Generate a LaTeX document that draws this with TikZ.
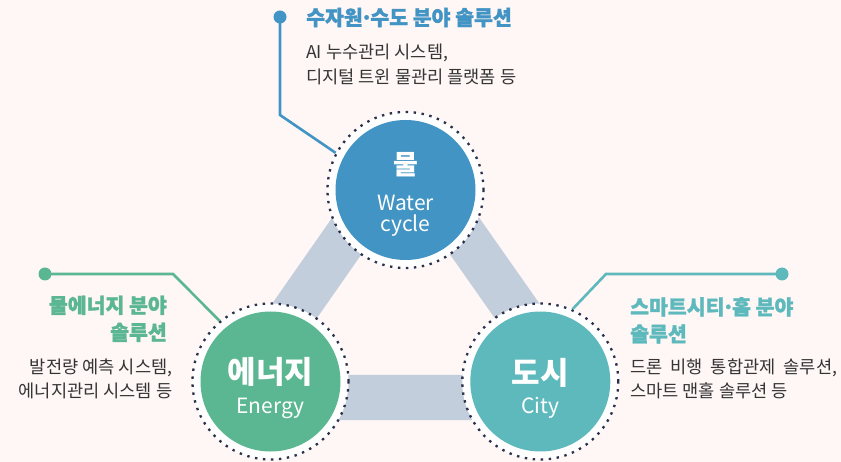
\documentclass[tikz,border=0pt]{standalone}
\usepackage{fontspec}
\setmainfont{Noto Sans CJK KR}
\newfontfamily\krheavy{Noto Sans CJK KR}[BoldFeatures={FakeBold=1.4}]
\definecolor{bg}{HTML}{FFF6F6}
\definecolor{wblue}{HTML}{4194C3}
\definecolor{egreen}{HTML}{5BB692}
\definecolor{cteal}{HTML}{5EB9BD}
\definecolor{barc}{HTML}{C3CEDC}
\definecolor{dotc}{HTML}{2A2F4A}
\definecolor{txt}{HTML}{353535}
\newcommand{\mdot}{\kern-0.12em·\kern-0.12em}
\begin{document}
\begin{tikzpicture}[x=1pt,y=-1pt,
  ring/.style={circle, fill=white, draw=dotc, line width=2.3pt, dash pattern=on 2.4pt off 5.6pt, minimum size=156, inner sep=0},
  core/.style={circle, fill=#1, minimum size=140, inner sep=0},
  bar/.style={draw=barc, line width=45pt, line join=round},
  callout/.style={draw=#1, line width=2.6pt},
  enddot/.style={circle, fill=#1, minimum size=13, inner sep=0},
  bigkr/.style={text=white, font=\fontsize{31}{31}\selectfont\bfseries, inner sep=0},
  latin/.style={text=white, font=\fontsize{21}{22}\selectfont, inner sep=0},
  title/.style={text=#1, font=\fontsize{20.5}{27}\selectfont\krheavy\bfseries, inner sep=0},
  body/.style={text=txt, font=\fontsize{17.6}{24.5}\selectfont, inner sep=0}
]
\fill[bg] (0,0) rectangle (841,462);
\useasboundingbox (0,0) rectangle (841,462);

% bars
\coordinate (b1) at (405.5,152);
\coordinate (b2) at (234,397.5);
\coordinate (b3) at (578,397.5);
\draw[bar] (b1) -- (b2) -- (b3) -- cycle;

% circles
\node[ring] (wout) at (405.5,190) {};
\node[ring] (eout) at (270.5,381.5) {};
\node[ring] (cout) at (540.3,381.5) {};
\node[core=wblue] (w) at (wout.center) {};
\node[core=egreen] (e) at (eout.center) {};
\node[core=cteal] (c) at (cout.center) {};

% circle texts
\node[text=white, font=\fontsize{27}{27}\selectfont\bfseries, inner sep=0] (wk) at (405.5,165) {물};
\node[latin, anchor=base] (wl1) at (405.5,210.5) {Water};
\node[latin, anchor=base] (wl2) at (405.5,232) {cycle};
\node[bigkr] (ek) at (270.5,371.7) {에너지};
\node[latin, anchor=base] (el) at (270.5,413.3) {Energy};
\node[bigkr] (ck) at (540.3,372.5) {도시};
\node[latin, anchor=base] (cl) at (540.3,413.3) {City};

% callouts
\node[enddot=wblue] (wd) at (280,17) {};
\coordinate (wbend) at (280,115);
\draw[callout=wblue] (wd.center) -- (wbend) -- (wout.152);

\node[enddot=egreen] (ed) at (45,274) {};
\coordinate (ebend) at (173,274);
\draw[callout=egreen] (ed.center) -- (ebend) -- (eout.130);

\node[enddot=cteal] (cd) at (782,274) {};
\coordinate (cbend) at (606,274);
\draw[callout=cteal] (cd.center) -- (cbend) -- (cout.66);

% texts
\node[title=wblue, anchor=west] (wt) at (306,17.5) {수자원\mdot 수도 분야 솔루션};
\node[body, anchor=north west, align=left] (wb) at (306,44) {AI 누수관리 시스템,\\디지털 트윈 물관리 플랫폼 등};

\node[title=egreen, anchor=north east, align=right] (et) at (167,295.5) {물에너지 분야\\솔루션};
\node[body, anchor=north east, align=right] (eb) at (172.5,358.5) {발전량 예측 시스템,\\에너지관리 시스템 등};

\node[title=cteal, anchor=north west, align=left] (ct) at (630,297) {스마트시티\mdot 홈 분야\\솔루션};
\node[body, anchor=north west, align=left] (cb) at (630,358.5) {\hbox to 207pt{드론\hfill 비행\hfill 통합관제\hfill 솔루션,}\\스마트 맨홀 솔루션 등};
\end{tikzpicture}
\end{document}
